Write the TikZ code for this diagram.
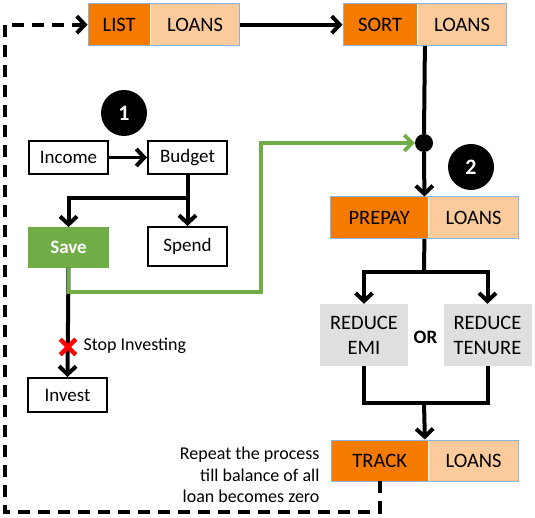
\documentclass[tikz,border=0pt]{standalone}
\usepackage{fontspec}
\setmainfont{Carlito}
\usetikzlibrary{arrows.meta,fit,shapes.misc}
\definecolor{dkor}{HTML}{F57A00}
\definecolor{ltor}{HTML}{FBCB9C}
\definecolor{obord}{HTML}{8DB3E2}
\definecolor{grbox}{HTML}{DFDFDF}
\definecolor{grn}{HTML}{70AD47}
\tikzset{
  dk/.style={fill=dkor, inner sep=0pt, minimum height=41pt, anchor=north west, font=\fontsize{20.5}{22}\selectfont},
  lt/.style={fill=ltor, inner sep=0pt, minimum height=41pt, anchor=north west, font=\fontsize{20.5}{22}\selectfont},
  obox/.style={draw=obord, line width=1pt, inner sep=0pt},
  wbox/.style={draw=black, line width=2pt, fill=white, inner sep=0pt, minimum width=79pt, font=\fontsize{19}{21}\selectfont},
  gbox/.style={fill=grbox, inner sep=0pt, minimum width=88pt, minimum height=62pt, align=center, font=\fontsize{20.5}{25}\selectfont},
  conn/.style={line width=4pt, draw=black},
  arr/.style={-{Straight Barb[length=8pt,width=17pt,line width=4pt]}},
  garr/.style={-{Straight Barb[length=8pt,width=16pt,line width=3.6pt]}},
  numc/.style={circle, fill=black, minimum size=46pt, inner sep=0pt, text=white, font=\fontsize{22}{24}\selectfont\bfseries},
}
\begin{document}
\begin{tikzpicture}[x=1pt,y=-1pt]
\useasboundingbox (0,0) rectangle (535,518);
% orange split boxes
\node[dk, minimum width=62pt] (listD) at (88,4) {LIST};
\node[lt, minimum width=89pt] (listL) at (listD.north east) {LOANS};
\node[obox, fit=(listD)(listL)] (listbox) {};
\node[dk, minimum width=74pt] (sortD) at (343,4) {SORT};
\node[lt, minimum width=89pt] (sortL) at (sortD.north east) {LOANS};
\node[obox, fit=(sortD)(sortL)] (sortbox) {};
\node[dk, minimum width=98pt] (prepD) at (330,197) {PREPAY};
\node[lt, minimum width=90pt] (prepL) at (prepD.north east) {LOANS};
\node[obox, fit=(prepD)(prepL)] (prepbox) {};
\node[dk, minimum width=97pt] (trackD) at (331,440) {TRACK};
\node[lt, minimum width=90pt] (trackL) at (trackD.north east) {LOANS};
\node[obox, fit=(trackD)(trackL)] (trackbox) {};
% gray boxes
\node[gbox] (emi) at (364,335) {REDUCE\\EMI};
\node[gbox] (tenure) at (487.5,335) {REDUCE\\TENURE};
\node[font=\fontsize{19}{21}\selectfont\bfseries] (or) at (425.5,337) {OR};
% numbered circles
\node[numc] (n1) at (124,113) {1};
\node[numc] (n2) at (471,167) {2};
% junction dot
\node[circle, fill=black, minimum size=18pt, inner sep=0pt] (dot) at (424,143) {};
% left flow boxes
\node[wbox, minimum height=33pt] (income) at (68.5,157.5) {Income};
\node[wbox, minimum height=33pt] (budget) at (187.5,157.5) {Budget};
\node[wbox, minimum height=39pt] (spend) at (187.5,246.5) {Spend};
\node[fill=grn, draw=grn, line width=0.8pt, inner sep=0pt, minimum width=80pt, minimum height=40pt, text=white, font=\fontsize{19}{21}\selectfont\bfseries] (save) at (68.5,247.5) {Save};
\node[wbox, minimum height=34pt] (invest) at (67.5,395) {Invest};
% connectors right side
\draw[conn,arr] (listbox.east) -- (sortbox.west);
\draw[conn] (sortbox.south) -- (dot.north);
\draw[conn,arr] (dot.south) -- (prepbox.north);
\coordinate (b1) at (424,272);
\draw[conn] (prepbox.south) -- (b1);
\draw[conn,arr] (b1) -| (emi.north);
\draw[conn,arr] (b1) -| (tenure.north);
\coordinate (b2) at (424,403);
\draw[conn] (emi.south) |- (b2) -| (tenure.south);
\draw[conn,arr] (b2) -- (trackbox.north);
% left connectors
\draw[conn,arr,line width=3.4pt] (income.east) -- (budget.west);
\draw[conn,arr] (budget.south) -- (spend.north);
\coordinate (b3) at (188,198);
\draw[conn,arr] (b3) -| (save.north);
\draw[conn,arr] (save.south) -- (invest.north);
% green path
\coordinate (g1) at (261,292);
\draw[draw=grn, line width=3.6pt, garr] (save.south) |- (g1) |- (dot.west);
% red cross
\node[cross out, draw=red, line width=4.5pt, minimum size=11pt, inner sep=0pt] (xm) at (68,347) {};
\node[anchor=west, font=\fontsize{18}{20}\selectfont] (stop) at (80,346) {Stop Investing};
% repeat text
\node[anchor=east, align=right, font=\fontsize{18}{21.5}\selectfont] (rep) at (323,475) {Repeat the process\\till balance of all\\loan becomes zero};
% dashed return loop
\coordinate (c1) at (5,512);
\draw[conn, dash pattern=on 12pt off 8pt, arr] (trackD.south) |- (c1) |- (listbox.west);
\end{tikzpicture}
\end{document}
